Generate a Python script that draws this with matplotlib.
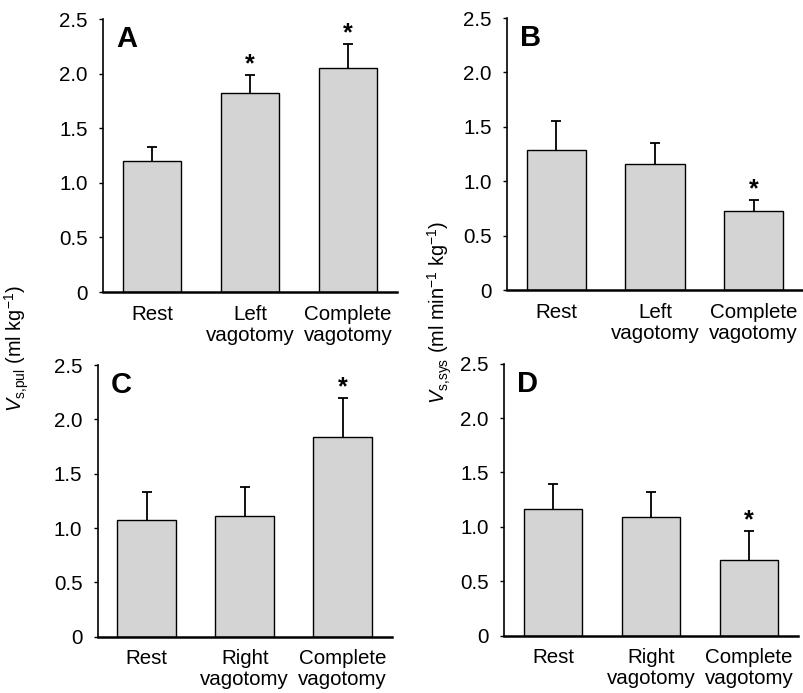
import matplotlib
matplotlib.use("Agg")
import matplotlib.pyplot as plt
import numpy as np

plt.rcParams['font.family'] = ['Liberation Sans', 'DejaVu Sans']
plt.rcParams['mathtext.fontset'] = 'custom'
plt.rcParams['mathtext.rm'] = 'Liberation Sans'
plt.rcParams['mathtext.it'] = 'Liberation Sans:italic'

# Datos
etiquetas_izq = ['Rest', 'Left\nvagotomy', 'Complete\nvagotomy']
etiquetas_der = ['Rest', 'Right\nvagotomy', 'Complete\nvagotomy']

valores_a = [1.20, 1.82, 2.05]
errores_a = [1.33, 1.99, 2.27]
sig_a = [False, True, True]

valores_b = [1.29, 1.16, 0.73]
errores_b = [1.55, 1.35, 0.83]
sig_b = [False, False, True]

valores_c = [1.07, 1.11, 1.84]
errores_c = [1.33, 1.38, 2.20]
sig_c = [False, False, True]

valores_d = [1.16, 1.09, 0.70]
errores_d = [1.39, 1.32, 0.96]
sig_d = [False, False, True]

ticks_y = [0, 0.5, 1.0, 1.5, 2.0, 2.5]
textos_y = ['0', '0.5', '1.0', '1.5', '2.0', '2.5']

fig = plt.figure(figsize=(8.04, 6.93), dpi=100)

paneles = [
    ('A', [0.1281, 0.5786, 0.3657, 0.3939], etiquetas_izq, valores_a, errores_a, sig_a),
    ('B', [0.6306, 0.5815, 0.3682, 0.3925], etiquetas_izq, valores_b, errores_b, sig_b),
    ('C', [0.1215, 0.0812, 0.3657, 0.3920], etiquetas_der, valores_c, errores_c, sig_c),
    ('D', [0.6269, 0.0827, 0.3657, 0.3925], etiquetas_der, valores_d, errores_d, sig_d),
]

for letra, pos, etiquetas, valores, errores, sig in paneles:
    ax = fig.add_axes(pos)
    x = np.arange(len(valores))
    ax.bar(x, valores, width=0.6, color='#d4d4d4', edgecolor='black', linewidth=1.0, zorder=2)
    # barra de error solo hacia arriba, con tope
    ax.vlines(x, valores, errores, color='black', linewidth=1.3, zorder=1)
    ax.plot(x, errores, linestyle='none', marker='_', markersize=7.5,
            markeredgewidth=1.3, color='black', zorder=1)
    for xi, tope, s in zip(x, errores, sig):
        if s:
            ax.annotate('*', (xi, tope), xytext=(0, -1), textcoords='offset points',
                        ha='center', va='bottom', fontsize=18, fontweight='bold')
    ax.set_xlim(-0.5, 2.5)
    ax.set_ylim(0, 2.5)
    ax.set_yticks(ticks_y)
    ax.set_yticklabels(textos_y)
    ax.set_xticks(x)
    ax.set_xticklabels(etiquetas, linespacing=1.15)
    ax.tick_params(axis='both', labelsize=14.8)
    ax.tick_params(axis='y', length=3, width=1.0, pad=8)
    ax.tick_params(axis='x', length=0, pad=9)
    for lado in ['top', 'right']:
        ax.spines[lado].set_visible(False)
    ax.spines['left'].set_linewidth(1.2)
    ax.spines['bottom'].set_linewidth(1.8)
    ax.text(0.045, 0.978, letra, transform=ax.transAxes, ha='left', va='top',
            fontsize=21, fontweight='bold')

fig.text(17 / 804, 1 - 349 / 693, r'$V_{\rm s{,}pul}$ (ml kg$^{-1}$)', rotation=90,
         ha='center', va='center', fontsize=14.3)
fig.text(440 / 804, 1 - 312 / 693, r'$V_{\rm s{,}sys}$ (ml min$^{-1}$ kg$^{-1}$)', rotation=90,
         ha='center', va='center', fontsize=14.3)

fig.savefig('out.png', dpi=100)
